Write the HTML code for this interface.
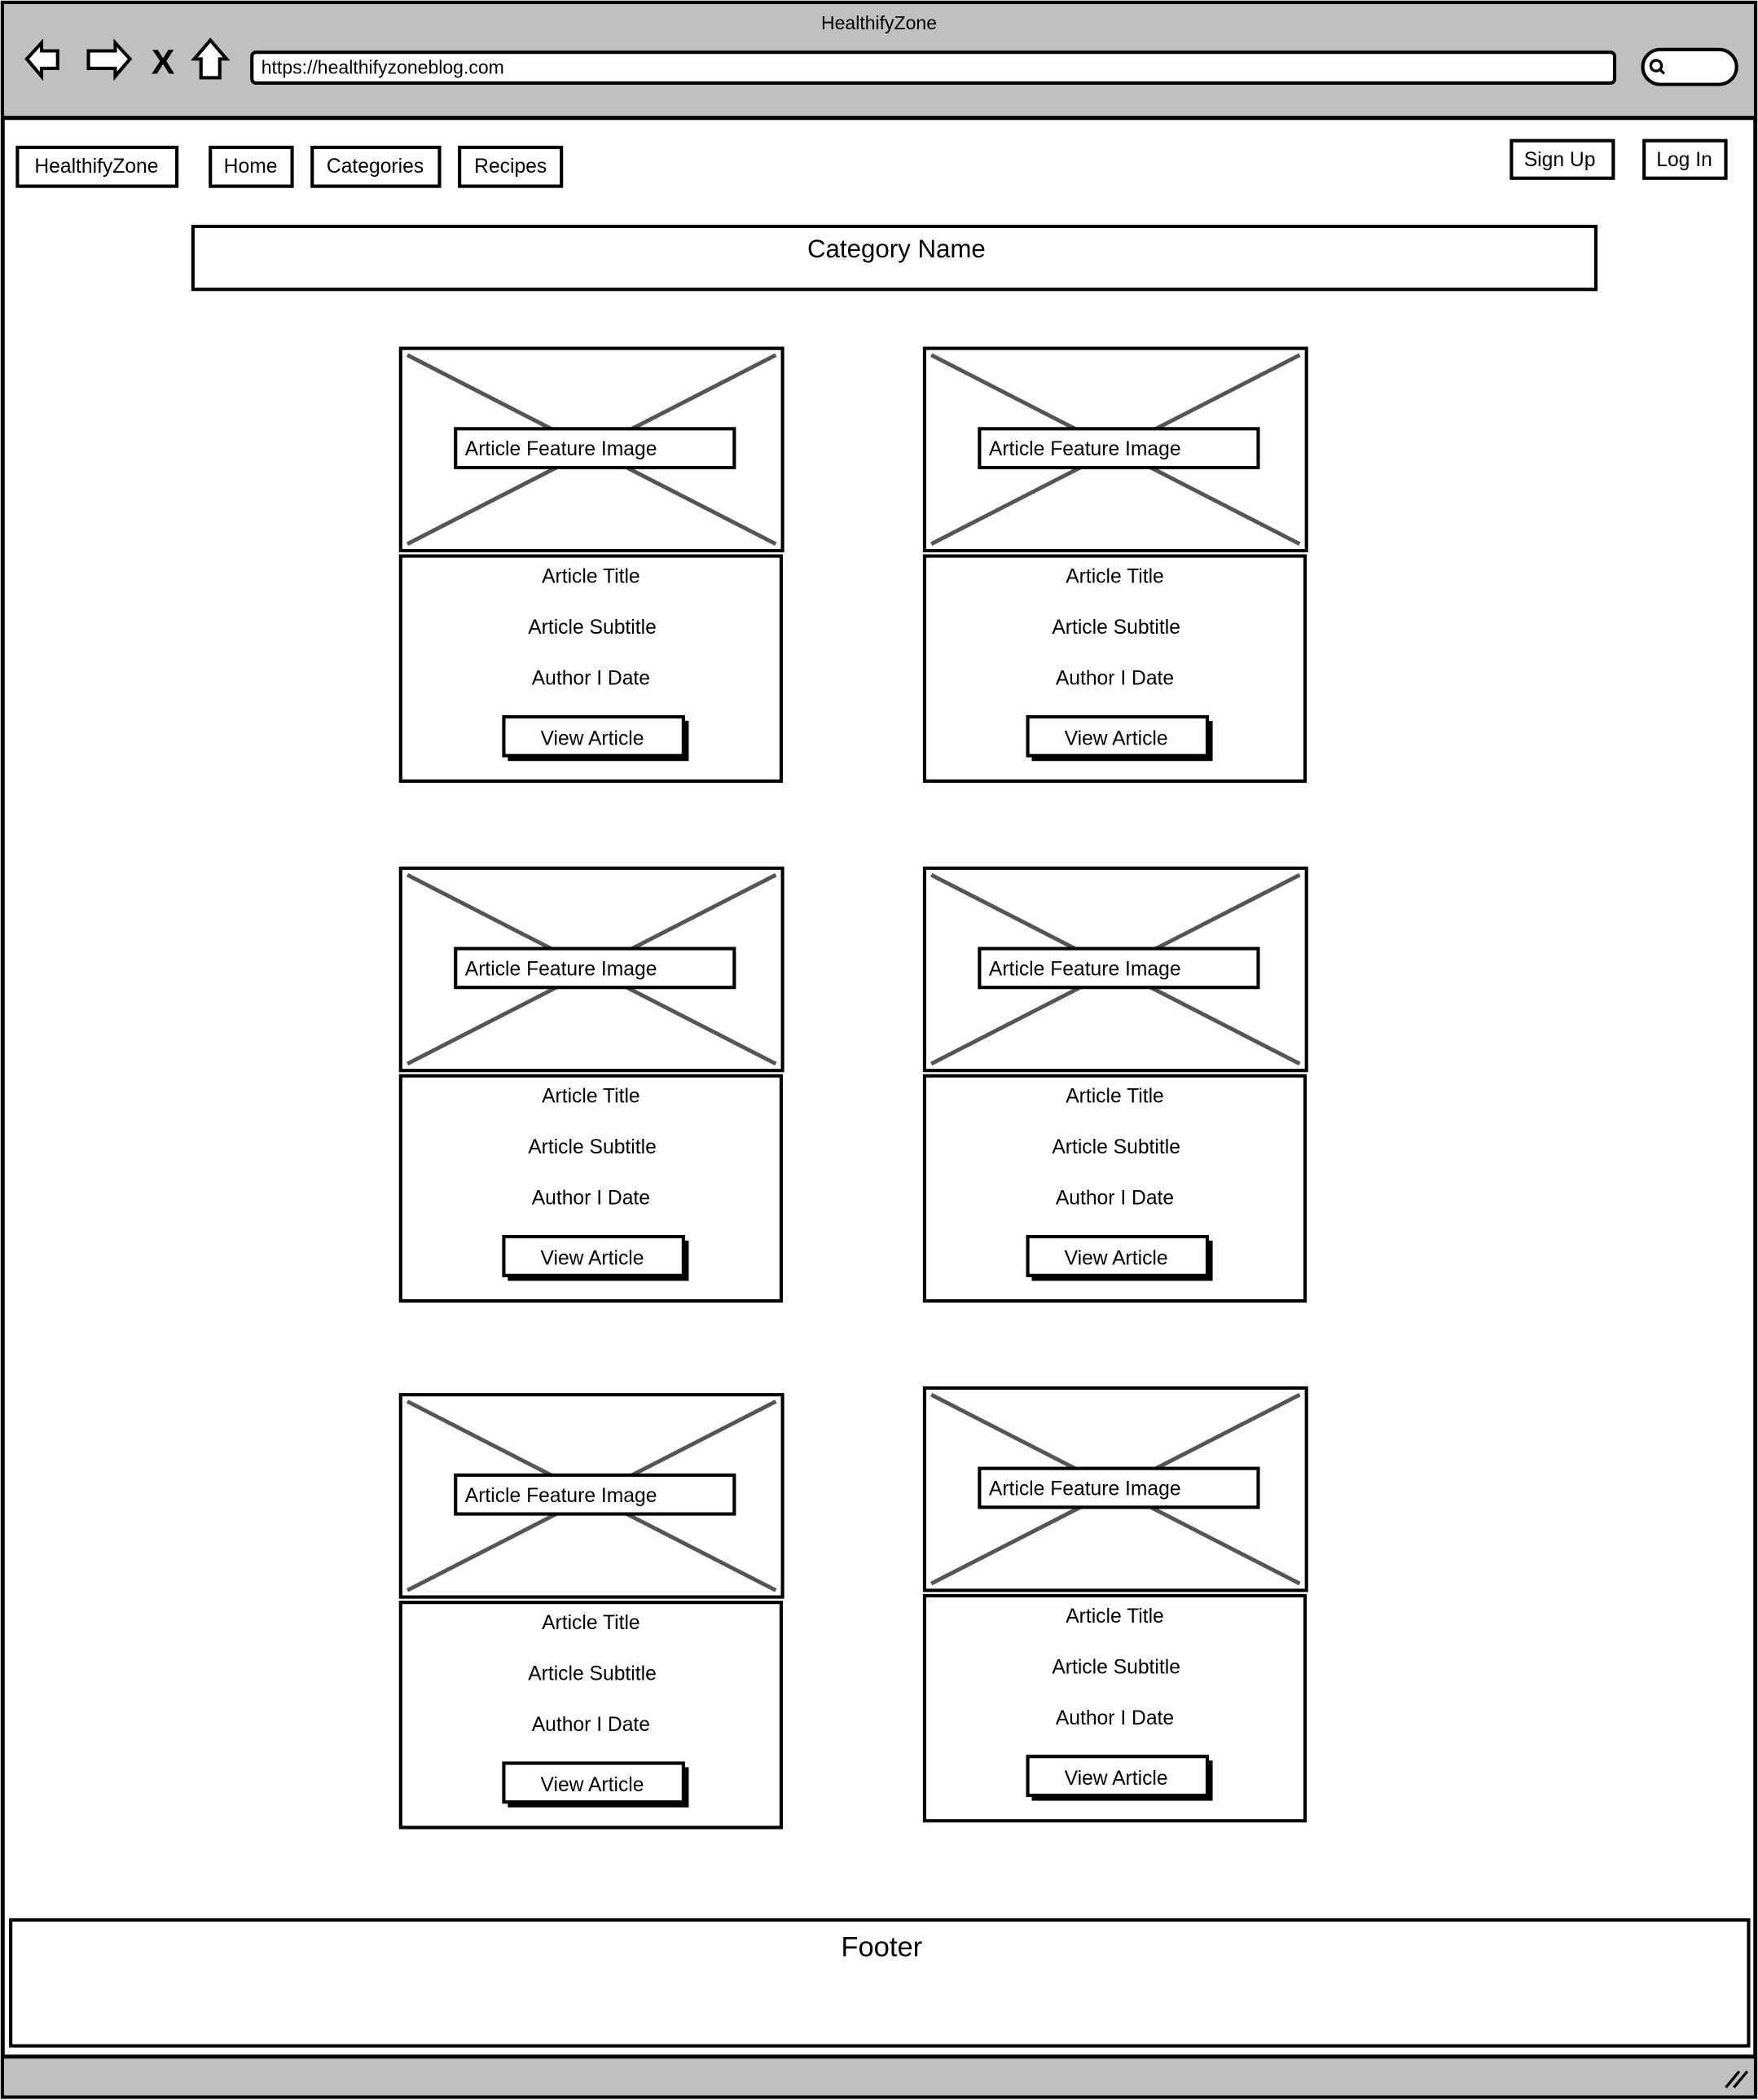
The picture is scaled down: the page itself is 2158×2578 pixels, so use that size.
<!DOCTYPE html>
<html><head><meta charset="utf-8"><style>
html,body{margin:0;padding:0;background:#fff}
svg{display:block}
text{font-family:"Liberation Sans",sans-serif;fill:#000}
</style></head><body>
<svg width="2158" height="2578" viewBox="0 0 1312 1567.4" preserveAspectRatio="none" xmlns="http://www.w3.org/2000/svg">
<defs>
<g id="card">
  <rect x="299" y="260" width="285" height="151" fill="#fff" stroke="#000" stroke-width="2.5"/>
  <line x1="304" y1="265" x2="579" y2="406" stroke="#555" stroke-width="3"/>
  <line x1="579" y1="265" x2="304" y2="406" stroke="#555" stroke-width="3"/>
  <rect x="340" y="320" width="208" height="29" fill="#fff" stroke="#000" stroke-width="2.5"/>
  <text x="347" y="340" font-size="15">Article Feature Image</text>
  <rect x="299" y="415" width="284" height="168" fill="#fff" stroke="#000" stroke-width="2.5"/>
  <text x="441" y="435" font-size="15" text-anchor="middle">Article Title</text>
  <text x="442" y="473" font-size="15" text-anchor="middle">Article Subtitle</text>
  <text x="441" y="511" font-size="15" text-anchor="middle">Author I Date</text>
  <rect x="379" y="538" width="135" height="30" fill="#000"/>
  <rect x="376" y="535" width="134" height="29" fill="#fff" stroke="#000" stroke-width="2.5"/>
  <text x="442" y="556" font-size="15" text-anchor="middle">View Article</text>
</g>
</defs>
<rect x="2" y="2" width="1308" height="1563" fill="#fff" stroke="#000" stroke-width="3"/>
<rect x="3" y="3" width="1306" height="85" fill="#c0c0c0"/>
<line x1="2" y1="88" x2="1310" y2="88" stroke="#000" stroke-width="3"/>
<text x="656" y="22" font-size="14" text-anchor="middle">HealthifyZone</text>
<path d="M20 44 L31 32 L31 38 L43 38 L43 51 L31 51 L31 57 Z" fill="#fff" stroke="#000" stroke-width="2.5"/>
<path d="M97 44 L86 32 L86 38 L66 38 L66 51 L86 51 L86 57 Z" fill="#fff" stroke="#000" stroke-width="2.5"/>
<text x="113" y="55" font-size="26" font-weight="bold">X</text>
<path d="M157 30 L169 44 L164 44 L164 58 L150 58 L150 44 L145 44 Z" fill="#fff" stroke="#000" stroke-width="2.5"/>
<rect x="188" y="39" width="1017" height="23" rx="3" fill="#fff" stroke="#000" stroke-width="2.5"/>
<text x="195" y="55" font-size="14">https://healthifyzoneblog.com</text>
<rect x="1226" y="37" width="70" height="26" rx="13" fill="#fff" stroke="#000" stroke-width="2.5"/>
<circle cx="1236" cy="49" r="4" fill="none" stroke="#000" stroke-width="2"/>
<line x1="1239" y1="52" x2="1242" y2="55" stroke="#000" stroke-width="2"/>
<g stroke="#000" stroke-width="2.5" fill="#fff">
<rect x="13" y="110" width="119" height="29"/>
<rect x="157" y="110" width="61" height="29"/>
<rect x="233" y="110" width="95" height="29"/>
<rect x="343" y="110" width="76" height="29"/>
<rect x="1128" y="105" width="76" height="28"/>
<rect x="1227" y="105" width="61" height="28"/>
<rect x="144" y="169" width="1047" height="47"/>
<rect x="8" y="1433" width="1297" height="94"/>
</g>
<text x="72" y="129" font-size="15" text-anchor="middle">HealthifyZone</text>
<text x="187" y="129" font-size="15" text-anchor="middle">Home</text>
<text x="280" y="129" font-size="15" text-anchor="middle">Categories</text>
<text x="381" y="129" font-size="15" text-anchor="middle">Recipes</text>
<text x="1164" y="124" font-size="15" text-anchor="middle">Sign Up</text>
<text x="1257" y="124" font-size="15" text-anchor="middle">Log In</text>
<text x="669" y="192" font-size="19" text-anchor="middle">Category Name</text>
<text x="658" y="1460" font-size="21" text-anchor="middle">Footer</text>
<use href="#card"/>
<use href="#card" transform="translate(391,0)"/>
<use href="#card" transform="translate(0,388)"/>
<use href="#card" transform="translate(391,388)"/>
<use href="#card" transform="translate(0,781)"/>
<use href="#card" transform="translate(391,776)"/>
<rect x="3" y="1535" width="1306" height="29" fill="#c0c0c0"/>
<line x1="2" y1="1535" x2="1310" y2="1535" stroke="#000" stroke-width="3"/>
<line x1="1288" y1="1558" x2="1298" y2="1546" stroke="#000" stroke-width="2"/>
<line x1="1294" y1="1558" x2="1304" y2="1546" stroke="#000" stroke-width="2"/>
</svg>
</body></html>
